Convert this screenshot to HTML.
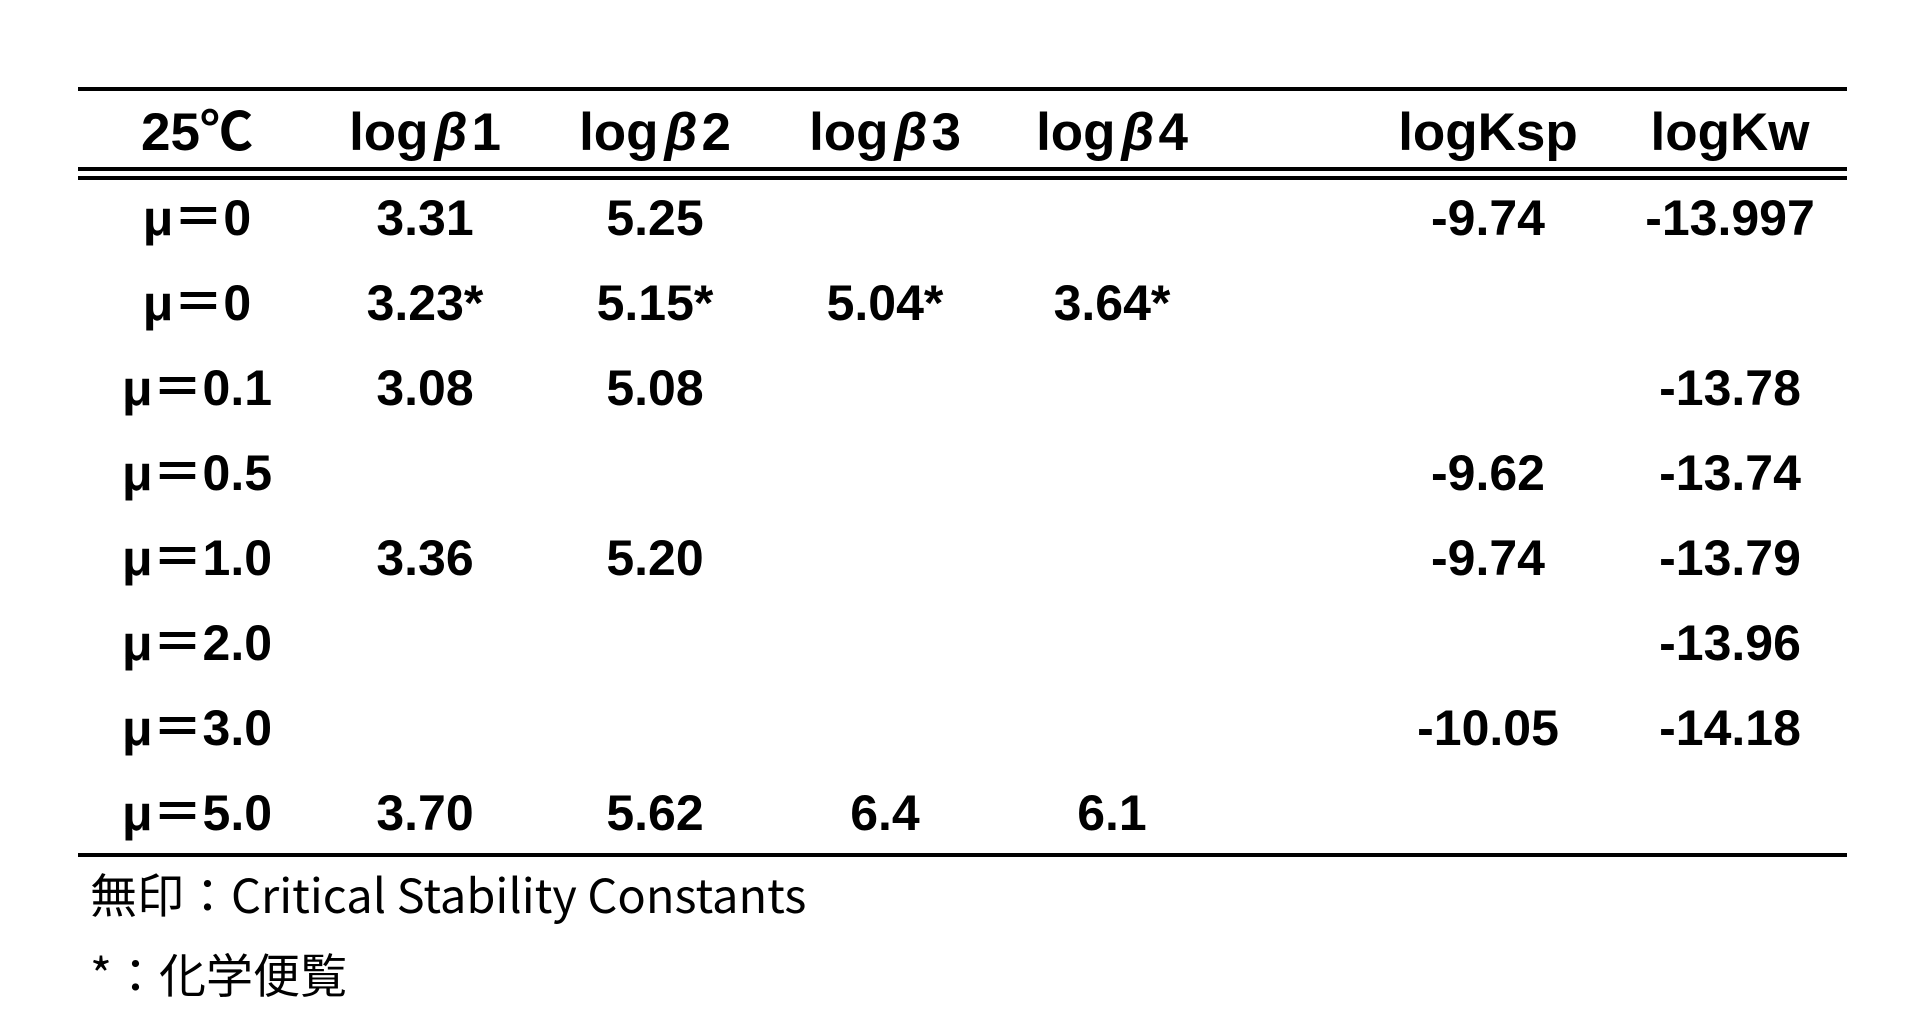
<!DOCTYPE html>
<html><head><meta charset="utf-8"><style>
html,body{margin:0;padding:0;background:#fff;}
svg{display:block;}
text{fill:#000;}
.h{font-family:"Liberation Sans","Noto Sans CJK JP",sans-serif;font-size:53px;font-weight:bold;}
.c{font-family:"Liberation Sans","Noto Sans CJK JP",sans-serif;font-size:50px;font-weight:bold;}
.f{font-family:"Noto Sans CJK JP","Liberation Sans",sans-serif;font-size:47px;}
</style></head><body>
<svg id="tbl" width="1930" height="1024" viewBox="0 0 1930 1024" xmlns="http://www.w3.org/2000/svg">
<rect width="1930" height="1024" fill="#fff"/>
<line x1="78" x2="1847" y1="89" y2="89" stroke="#000" stroke-width="4"/>
<line x1="78" x2="1847" y1="169" y2="169" stroke="#000" stroke-width="4"/>
<line x1="78" x2="1847" y1="178" y2="178" stroke="#000" stroke-width="4"/>
<line x1="78" x2="1847" y1="855" y2="855" stroke="#000" stroke-width="4"/>
<g id="hdr"></g>
<g id="body"></g>
<text class="f" x="90" y="913">無印：Critical Stability Constants</text>
<text class="f" x="90" y="993">*：化学便覧</text>
</svg>
<script>
const rowLabels = ["μ＝0","μ＝0","μ＝0.1","μ＝0.5","μ＝1.0","μ＝2.0","μ＝3.0","μ＝5.0"];
const logB1 = ["3.31","3.23*","3.08","","3.36","","","3.70"];
const logB2 = ["5.25","5.15*","5.08","","5.20","","","5.62"];
const logB3 = ["","5.04*","","","","","","6.4"];
const logB4 = ["","3.64*","","","","","","6.1"];
const logKsp = ["-9.74","","","-9.62","-9.74","","-10.05",""];
const logKw = ["-13.997","","-13.78","-13.74","-13.79","-13.96","-14.18",""];
const NS="http://www.w3.org/2000/svg";
const colX=[197,425,655,885,1112,1488,1730];
const headerY=150, row0Y=235, rowStep=85;
const hdr=document.getElementById('hdr');
const heads=[["25℃",null],["log","1"],["log","2"],["log","3"],["log","4"],["logKsp",null],["logKw",null]];
heads.forEach((h,i)=>{
  const t=document.createElementNS(NS,'text');
  t.setAttribute('class','h');
  t.setAttribute('x',colX[i]);t.setAttribute('y',headerY);t.setAttribute('text-anchor','middle');
  
  
  if(h[1]===null){t.textContent=h[0];}
  else{
    const a=document.createElementNS(NS,'tspan');a.textContent=h[0];t.appendChild(a);
    const b=document.createElementNS(NS,'tspan');b.textContent="β";b.setAttribute('font-style','italic');b.setAttribute('dx','6');t.appendChild(b);
    const c=document.createElementNS(NS,'tspan');c.textContent=h[1];c.setAttribute('dx','4');t.appendChild(c);
  }
  hdr.appendChild(t);
});
const cols=[rowLabels,logB1,logB2,logB3,logB4,logKsp,logKw];
const body=document.getElementById('body');
rowLabels.forEach((_,r)=>{
  cols.forEach((col,c)=>{
    if(!col[r])return;
    const t=document.createElementNS(NS,'text');
    t.setAttribute('class','c');
    t.setAttribute('x',colX[c]);t.setAttribute('y',row0Y+r*rowStep);t.setAttribute('text-anchor','middle');
    
    
    t.textContent=col[r];
    body.appendChild(t);
  });
});
</script>
</body></html>
